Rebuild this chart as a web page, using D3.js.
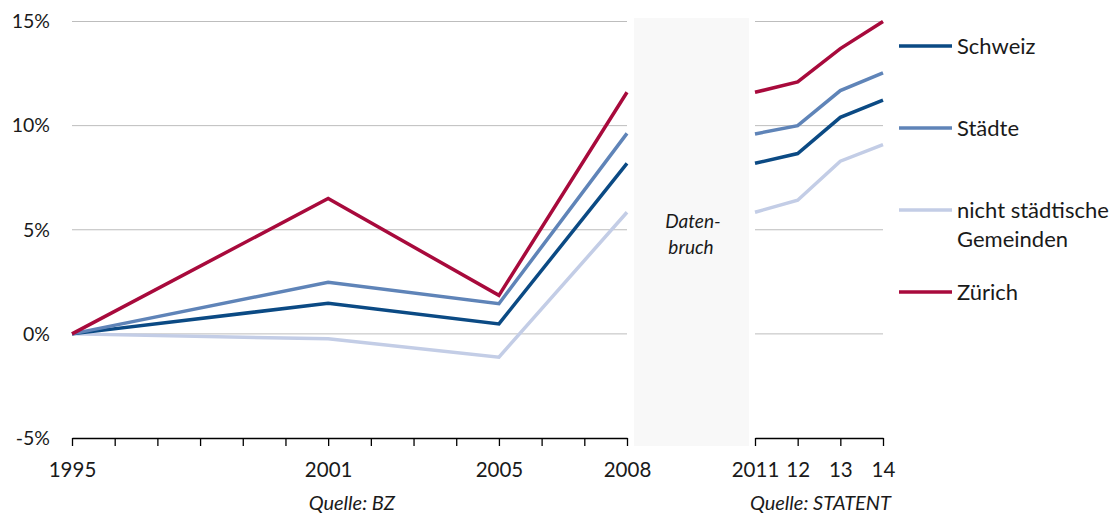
<!DOCTYPE html>
<html><head><meta charset="utf-8">
<script src="https://cdn.jsdelivr.net/npm/d3@7"></script>
<style>
body{margin:0;background:#fff;}
svg{font-family:Lato,"Open Sans",sans-serif;}
</style></head>
<body><svg id="c" width="1115" height="514"></svg>
<script>
const yearsA = [1995, 2001, 2005, 2008];
const yearsB = [2011, 2012, 2013, 2014];
const tickYearsA = d3.range(1995, 2009);
const tickLabelsA = {1995:"1995", 2001:"2001", 2005:"2005", 2008:"2008"};
const tickLabelsB = {2011:"2011", 2012:"12", 2013:"13", 2014:"14"};
const yTicks = [-5, 0, 5, 10, 15];
const seriesNames = ["Schweiz", "Städte", "nicht städtische Gemeinden", "Zürich"];
const schweizA = [0, 1.47, 0.48, 8.19];
const schweizB = [8.19, 8.66, 10.4, 11.23];
const staedteA = [0, 2.48, 1.45, 9.63];
const staedteB = [9.6, 10.0, 11.68, 12.53];
const nichtA = [0, -0.24, -1.12, 5.84];
const nichtB = [5.84, 6.42, 8.29, 9.09];
const zuerichA = [0, 6.5, 1.85, 11.6];
const zuerichB = [11.6, 12.1, 13.7, 15.0];
const colors = ["#0b4a84", "#5f84b8", "#c3cde6", "#a80a3c"];

const svg = d3.select("#c");
const xA = d3.scaleLinear().domain([1995, 2008]).range([72, 627]);
const xB = d3.scaleLinear().domain([2011, 2014]).range([755, 883]);
const y = d3.scaleLinear().domain([-5, 15]).range([438, 21.5]);

// break box
svg.append("rect").attr("x", 634).attr("y", 18).attr("width", 115).attr("height", 428).attr("fill", "#f8f8f8");

// gridlines
const grid = svg.append("g");
yTicks.filter(v => v > -5).forEach(v => {
  grid.append("line").attr("x1", xA(1995)).attr("x2", xA(2008)).attr("y1", y(v)).attr("y2", y(v))
    .attr("stroke", "#bdbdbd").attr("stroke-width", 1);
  grid.append("line").attr("x1", xB(2011)).attr("x2", xB(2014)).attr("y1", y(v)).attr("y2", y(v))
    .attr("stroke", "#bdbdbd").attr("stroke-width", 1);
});

// y labels
svg.append("g").selectAll("text").data(yTicks).join("text")
  .attr("x", 50).attr("y", d => y(d)).attr("dy", "0.35em").attr("text-anchor", "end")
  .attr("font-size", 19.5).attr("fill", "#1a1a1a").text(d => d + "%");

// x axes
function styleAxis(g) {
  g.select(".domain").attr("stroke", "#000").attr("stroke-width", 1.3);
  g.selectAll(".tick line").attr("stroke", "#000").attr("stroke-width", 1.3);
  g.selectAll(".tick text").attr("font-size", 20.5).attr("fill", "#1a1a1a").attr("y", 24).attr("dy", "0.71em")
    .attr("font-family", "Lato,sans-serif");
}
const axA = d3.axisBottom(xA).tickValues(tickYearsA).tickSize(8).tickSizeOuter(0)
  .tickFormat(d => tickLabelsA[d] || "");
const gA = svg.append("g").attr("transform", `translate(0,${y(-5)})`).call(axA);
styleAxis(gA);
const axB = d3.axisBottom(xB).tickValues(yearsB).tickSize(8).tickSizeOuter(0)
  .tickFormat(d => tickLabelsB[d]);
const gB = svg.append("g").attr("transform", `translate(0,${y(-5)})`).call(axB);
styleAxis(gB);

// sources
svg.append("text").attr("x", 395).attr("y", 510).attr("text-anchor", "end").attr("font-size", 20)
  .attr("font-style", "italic").attr("fill", "#1a1a1a").text("Quelle: BZ");
svg.append("text").attr("x", 891).attr("y", 510).attr("text-anchor", "end").attr("font-size", 20)
  .attr("font-style", "italic").attr("fill", "#1a1a1a").text("Quelle: STATENT");

// Datenbruch
const db = svg.append("text").attr("text-anchor", "middle").attr("font-size", 19)
  .attr("font-style", "italic").attr("fill", "#1a1a1a");
db.append("tspan").attr("x", 693).attr("y", 228).text("Daten-");
db.append("tspan").attr("x", 691).attr("y", 254).text("bruch");

// lines
const seriesA = [schweizA, staedteA, nichtA, zuerichA];
const seriesB = [schweizB, staedteB, nichtB, zuerichB];
const order = [2, 0, 1, 3];
const lineA = d3.line().x((d, i) => xA(yearsA[i])).y(d => y(d));
const lineB = d3.line().x((d, i) => xB(yearsB[i])).y(d => y(d));
order.forEach(k => {
  svg.append("path").attr("d", lineA(seriesA[k])).attr("fill", "none").attr("stroke", colors[k])
    .attr("stroke-width", 3.5).attr("stroke-linejoin", "miter");
  svg.append("path").attr("d", lineB(seriesB[k])).attr("fill", "none").attr("stroke", colors[k])
    .attr("stroke-width", 3.5).attr("stroke-linejoin", "miter");
});

// legend
const legY = [46, 128, 210, 292];
const leg = svg.append("g");
seriesNames.forEach((n, i) => {
  leg.append("line").attr("x1", 899).attr("x2", 952).attr("y1", legY[i]).attr("y2", legY[i])
    .attr("stroke", colors[i]).attr("stroke-width", 3.5);
  const t = leg.append("text").attr("x", 957).attr("y", legY[i]).attr("dy", "0.35em")
    .attr("font-size", 22).attr("fill", "#1a1a1a");
  if (i === 2) {
    t.append("tspan").attr("x", 957).text("nicht städtische");
    t.append("tspan").attr("x", 957).attr("dy", "1.35em").text("Gemeinden");
  } else t.text(n);
});
</script></body></html>
